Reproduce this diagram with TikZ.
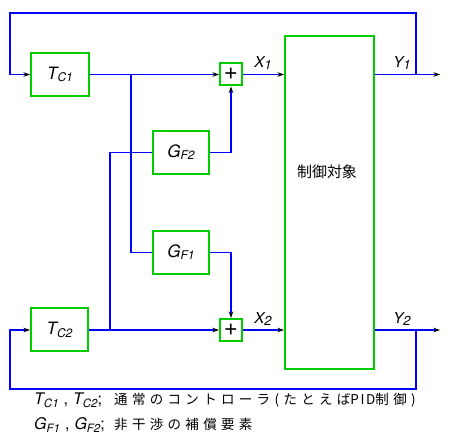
\documentclass[tikz,border=0pt]{standalone}
\usepackage{fontspec}
\usetikzlibrary{arrows.meta}
\newfontfamily\hv{TeX Gyre Heros}
\newfontfamily\jp{Noto Sans CJK JP}
\newfontfamily\jpsp[LetterSpace=32]{Noto Sans CJK JP}
\newfontfamily\jpmid[LetterSpace=12]{Noto Sans CJK JP}
\newcommand\lbl[3][12]{{\hv\itshape #2}\raisebox{-0.3ex}{\hv\itshape\fontsize{#1}{#1}\selectfont #3}}
\definecolor{lblue}{RGB}{0,0,255}
\definecolor{lgreen}{RGB}{0,204,0}
\tikzset{
  box/.style={draw=lgreen, line width=2pt, fill=white, inner sep=0pt, font=\fontsize{17}{17}\selectfont},
  sumbox/.style={draw=lgreen, line width=2pt, fill=white, inner sep=0pt, minimum width=22pt, minimum height=22pt, font=\hv\fontsize{24}{24}\selectfont},
  wire/.style={draw=lblue, line width=1.7pt},
  arr/.style={wire, -{Stealth[color=black,length=6.5pt,width=4.5pt]}},
  sig/.style={font=\fontsize{15}{15}\selectfont, inner sep=0pt},
  legend/.style={anchor=base west, inner sep=0pt, font=\fontsize{16}{16}\selectfont},
  legendjp/.style={anchor=base west, inner sep=0pt, font=\jpsp\fontsize{13.5}{13.5}\selectfont},
}
\begin{document}
\begin{tikzpicture}[x=1pt,y=-1pt]
\useasboundingbox[fill=white] (0,0) rectangle (451,444);
% blocks
\node[box, minimum width=58pt, minimum height=43pt] (tc1) at (60,74.5) {\lbl{T}{C1}};
\node[box, minimum width=57pt, minimum height=43pt] (tc2) at (59.5,330) {\lbl{T}{C2}};
\node[box, minimum width=56pt, minimum height=43pt] (gf2) at (181,152.5) {\lbl{G}{F2}};
\node[box, minimum width=56pt, minimum height=43pt] (gf1) at (181,252.5) {\lbl{G}{F1}};
\node[sumbox] (s1) at (231,74.5) {\raisebox{0.1ex}{+}};
\node[sumbox] (s2) at (231,330) {\raisebox{0.1ex}{+}};
\node[box, minimum width=89pt, minimum height=333pt] (plant) at (329.5,202.5) {};
\node[inner sep=0pt, font=\jp\fontsize{15}{15}\selectfont] (plbl) at (327,172) {制御対象};
% coordinates
\coordinate (b1) at (131,74.5);
\coordinate (b2) at (110,330);
\coordinate (o1) at (440,74.5);
\coordinate (o2) at (440,330);
\coordinate (f1) at (416,74.5);
\coordinate (f2) at (416,330);
\coordinate (t1) at (10,13);
\coordinate (t2) at (10,389);
% wires
\draw[arr] (tc1.east) -- (s1.west);
\draw[arr] (s1.east) -- (s1.east -| plant.west);
\draw[arr] (s1.east -| plant.east) -- (o1);
\draw[arr] (f1) |- (t1) |- (tc1.west);
\draw[wire] (b1) |- (gf1.west);
\draw[arr] (gf1.east) -| (s2.north);
\draw[arr] (gf2.east) -| (s1.south);
\draw[arr] (tc2.east) -- (s2.west);
\draw[wire] (b2) |- (gf2.west);
\draw[arr] (s2.east) -- (s2.east -| plant.west);
\draw[arr] (s2.east -| plant.east) -- (o2);
\draw[arr] (f2) |- (t2) |- (tc2.west);
% signal labels
\node[sig] (x1) at (263,63) {\lbl[13]{X}{1}};
\node[sig] (y1) at (402,63) {\lbl[13]{Y}{1}};
\node[sig] (x2) at (263,319) {\lbl[13]{X}{2}};
\node[sig] (y2) at (402,319) {\lbl[13]{Y}{2}};
% legend
\node[legend] (leg1a) at (34,405) {\lbl[11.5]{T}{C1}\hspace{5pt}{\hv ,}\hspace{5pt}\lbl[11.5]{T}{C2}{\hv ;}};
\node[legendjp] (leg1b) at (114,405) {通常のコントローラ(たとえば{\jpmid PID}制御)};
\node[legend] (leg2a) at (34,430) {\lbl[11.5]{G}{F1}\hspace{5pt}{\hv ,}\hspace{5pt}\lbl[11.5]{G}{F2}{\hv ;}};
\node[legendjp] (leg2b) at (114,430) {非干渉の補償要素};
\end{tikzpicture}
\end{document}
